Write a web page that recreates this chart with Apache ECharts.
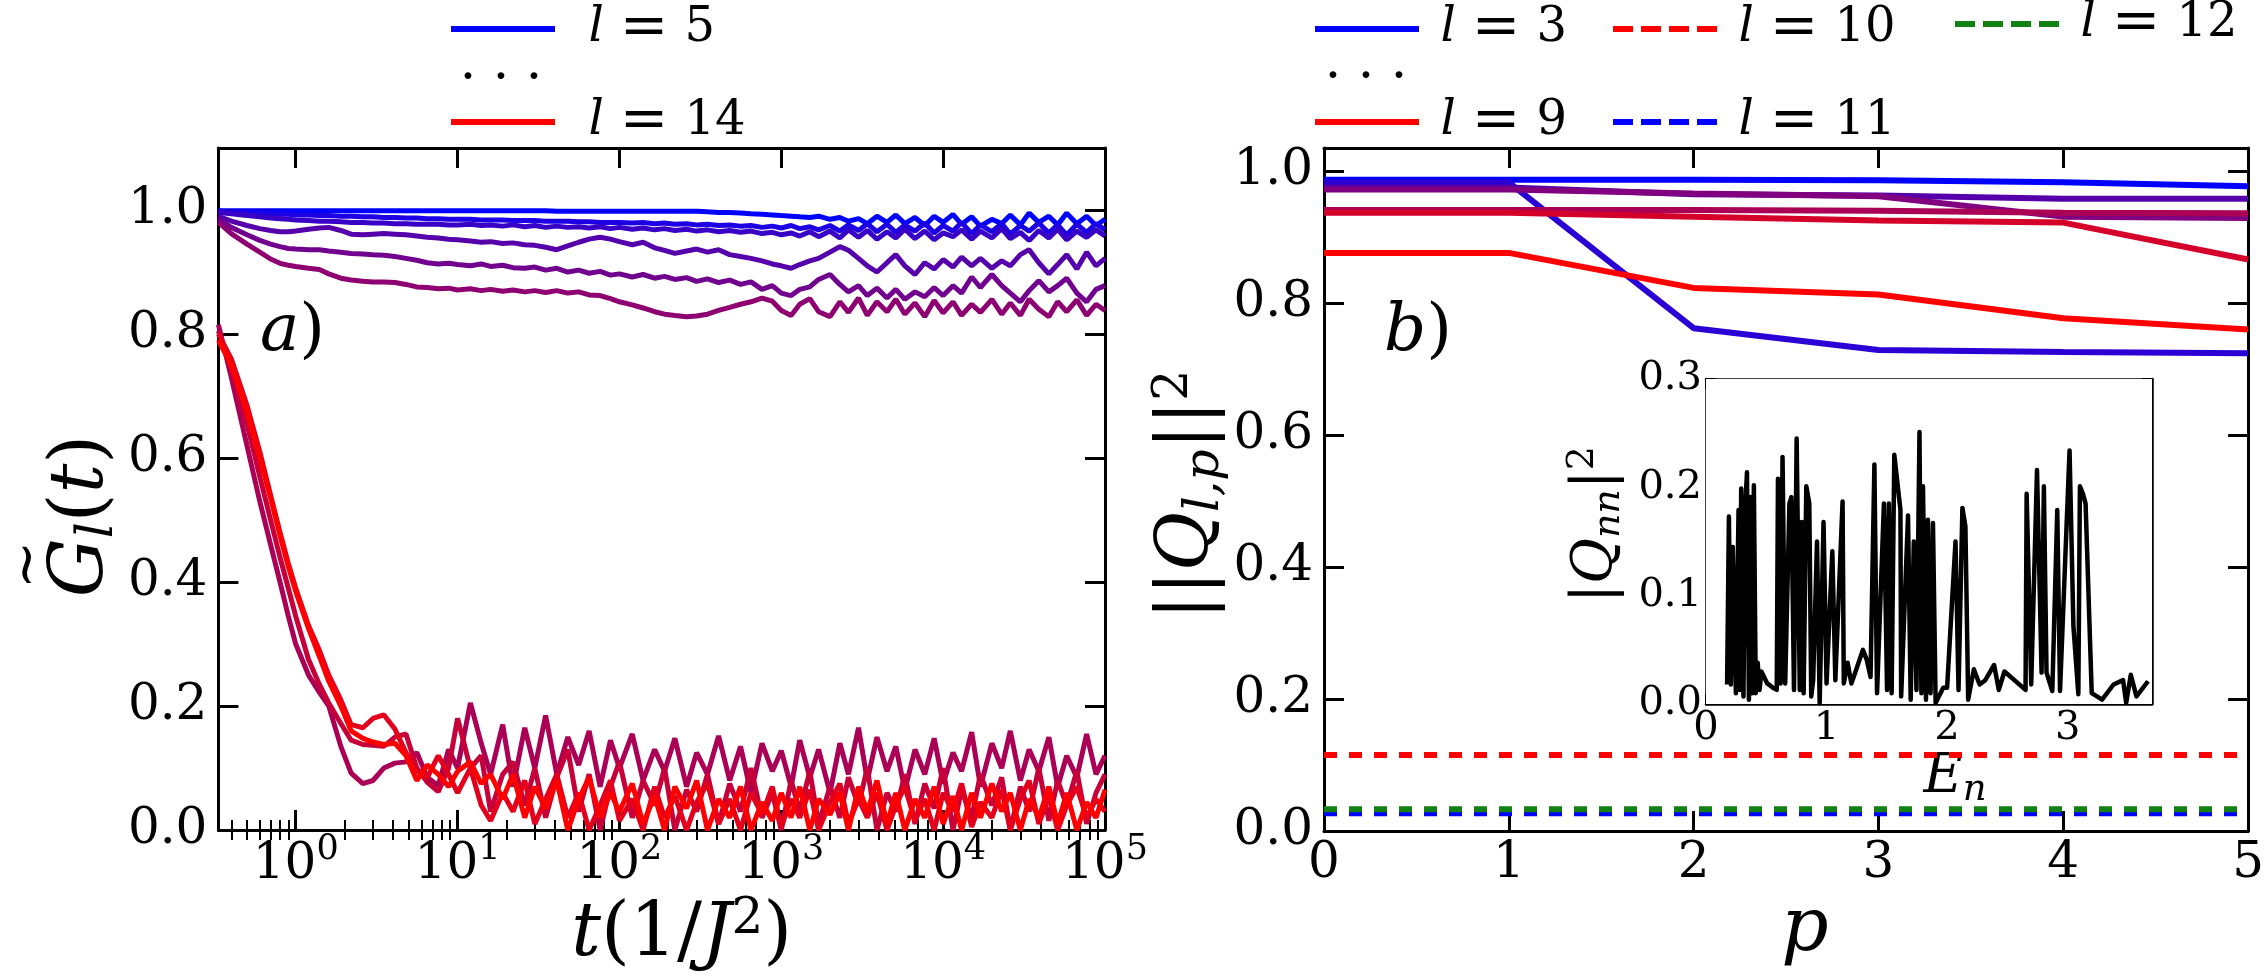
<!DOCTYPE html>
<html><head><meta charset="utf-8">
<script src="https://cdn.jsdelivr.net/npm/echarts@6/dist/echarts.min.js"></script>
<style>html,body{margin:0;padding:0;background:#fff}#c{width:2267px;height:978px}</style>
</head><body><div id="c"></div><script>
// ---------------- data: panel a) ----------------
const T = [0.333,0.4,0.5,0.6,0.7,0.8,0.9,1.0,1.2,1.4,1.6,
 1.9,2.2,2.6,3.0,3.5,4.1,4.8,5.6,6.5,7.6,8.8,
 10,12,14,16,19,22,26,30,35,41,48,
 56,65,76,88,100,120,140,165,190,220,260,
 300,350,410,480,560,650,760,880,1000,1150,1300,
 1500,1700,2000,2300,2600,3000,3400,3900,4500,5100,5800,
 6700,7700,8800,10000,11500,13000,15000,17000,20000,23000,26000,
 30000,34000,39000,45000,51000,58000,67000,77000,88000,100000];
const G5 = [0.999,0.999,0.999,0.999,0.999,0.999,0.999,0.999,0.999,0.999,0.999,
 0.999,0.999,0.999,0.999,0.999,0.999,0.999,0.999,0.999,0.999,0.999,
 0.999,0.999,0.999,0.999,0.999,0.999,0.999,0.999,0.999,0.998,0.998,
 0.998,0.998,0.998,0.998,0.998,0.998,0.998,0.998,0.998,0.998,0.998,
 0.998,0.997,0.996,0.996,0.995,0.994,0.993,0.992,0.991,0.990,0.989,
 0.988,0.990,0.985,0.988,0.982,0.986,0.978,0.990,0.980,0.992,0.978,
 0.988,0.975,0.990,0.980,0.993,0.977,0.989,0.974,0.985,0.978,0.992,
 0.976,0.995,0.980,0.990,0.976,0.995,0.978,0.990,0.975,0.985];
const G6 = [0.998,0.997,0.996,0.995,0.994,0.993,0.993,0.992,0.992,0.991,0.991,
 0.990,0.990,0.989,0.989,0.988,0.988,0.987,0.987,0.986,0.986,0.985,
 0.985,0.985,0.984,0.984,0.984,0.983,0.983,0.983,0.982,0.982,0.982,
 0.981,0.981,0.980,0.980,0.980,0.979,0.980,0.978,0.979,0.977,0.978,
 0.976,0.977,0.975,0.976,0.974,0.975,0.972,0.974,0.971,0.975,0.970,
 0.973,0.968,0.975,0.966,0.976,0.967,0.978,0.965,0.977,0.964,0.976,
 0.966,0.979,0.963,0.975,0.966,0.980,0.962,0.976,0.965,0.978,0.961,
 0.975,0.966,0.979,0.963,0.976,0.960,0.977,0.964,0.978,0.968];
const G7 = [0.996,0.994,0.991,0.989,0.987,0.986,0.985,0.984,0.983,0.982,0.982,
 0.981,0.980,0.980,0.979,0.979,0.978,0.978,0.977,0.977,0.977,0.976,
 0.976,0.977,0.975,0.976,0.974,0.976,0.973,0.975,0.972,0.974,0.972,
 0.973,0.971,0.973,0.970,0.972,0.969,0.971,0.968,0.970,0.967,0.969,
 0.966,0.968,0.965,0.967,0.964,0.966,0.962,0.964,0.960,0.963,0.958,
 0.965,0.957,0.966,0.955,0.968,0.956,0.967,0.953,0.965,0.955,0.969,
 0.954,0.966,0.952,0.963,0.957,0.968,0.953,0.966,0.955,0.970,0.954,
 0.964,0.951,0.967,0.955,0.969,0.952,0.966,0.956,0.968,0.958];
const G8 = [0.990,0.982,0.975,0.970,0.967,0.965,0.965,0.966,0.969,0.971,0.972,
 0.967,0.961,0.960,0.961,0.962,0.961,0.960,0.958,0.956,0.955,0.953,
 0.952,0.950,0.948,0.949,0.946,0.947,0.944,0.943,0.940,0.936,0.942,
 0.948,0.953,0.956,0.953,0.949,0.944,0.948,0.939,0.935,0.930,0.934,
 0.937,0.932,0.936,0.928,0.925,0.922,0.918,0.913,0.910,0.906,0.912,
 0.918,0.922,0.932,0.941,0.935,0.922,0.910,0.900,0.915,0.928,0.910,
 0.896,0.915,0.905,0.920,0.908,0.924,0.910,0.922,0.906,0.918,0.910,
 0.928,0.936,0.915,0.897,0.912,0.928,0.905,0.932,0.910,0.922];
const G9 = [0.985,0.972,0.960,0.951,0.945,0.941,0.938,0.937,0.936,0.936,0.934,
 0.932,0.930,0.929,0.928,0.927,0.925,0.922,0.919,0.915,0.913,0.914,
 0.912,0.910,0.913,0.909,0.911,0.907,0.906,0.908,0.903,0.906,0.900,
 0.903,0.898,0.901,0.895,0.897,0.892,0.896,0.890,0.893,0.888,0.891,
 0.885,0.889,0.883,0.887,0.880,0.884,0.872,0.878,0.866,0.862,0.872,
 0.876,0.888,0.896,0.880,0.868,0.878,0.862,0.874,0.858,0.872,0.856,
 0.868,0.860,0.875,0.862,0.878,0.866,0.892,0.875,0.896,0.878,0.866,
 0.852,0.870,0.886,0.868,0.878,0.890,0.866,0.852,0.872,0.878];
const G10 = [0.980,0.962,0.945,0.932,0.921,0.914,0.911,0.909,0.906,0.904,0.897,
 0.890,0.887,0.885,0.884,0.884,0.883,0.880,0.876,0.875,0.873,0.874,
 0.871,0.873,0.870,0.872,0.869,0.871,0.868,0.870,0.867,0.870,0.866,
 0.868,0.863,0.862,0.857,0.852,0.847,0.842,0.836,0.832,0.830,0.828,
 0.829,0.832,0.838,0.843,0.848,0.852,0.858,0.853,0.838,0.830,0.848,
 0.857,0.836,0.828,0.852,0.835,0.858,0.830,0.852,0.836,0.856,0.832,
 0.850,0.828,0.854,0.834,0.852,0.830,0.848,0.835,0.856,0.832,0.850,
 0.830,0.856,0.840,0.828,0.852,0.836,0.855,0.830,0.848,0.838];
const G11 = [0.815,0.730,0.620,0.530,0.460,0.400,0.345,0.300,0.250,0.222,0.200,
 0.135,0.092,0.075,0.080,0.100,0.108,0.110,0.125,0.085,0.072,0.130,
 0.100,0.205,0.140,0.090,0.170,0.070,0.165,0.100,0.185,0.090,0.150,
 0.105,0.160,0.070,0.145,0.100,0.155,0.080,0.130,0.095,0.148,0.070,
 0.125,0.090,0.152,0.080,0.135,0.060,0.140,0.095,0.128,0.070,0.145,
 0.085,0.130,0.060,0.140,0.090,0.165,0.080,0.150,0.095,0.135,0.065,
 0.130,0.090,0.148,0.075,0.125,0.095,0.158,0.070,0.140,0.100,0.160,
 0.080,0.130,0.095,0.150,0.070,0.120,0.085,0.155,0.090,0.120];
const G12 = [0.805,0.745,0.655,0.570,0.500,0.440,0.390,0.345,0.275,0.235,0.205,
 0.172,0.145,0.138,0.137,0.135,0.150,0.155,0.100,0.077,0.062,0.100,
 0.180,0.100,0.120,0.030,0.090,0.110,0.040,0.100,0.020,0.085,0.130,
 0.030,0.090,0.000,0.070,0.110,0.020,0.080,0.040,0.100,0.000,0.065,
 0.030,0.090,0.010,0.075,0.030,0.100,0.020,0.060,0.000,0.080,0.030,
 0.095,0.010,0.070,0.020,0.085,0.040,0.100,0.000,0.060,0.030,0.090,
 0.010,0.075,0.035,0.100,0.000,0.065,0.020,0.090,0.040,0.085,0.000,
 0.070,0.030,0.100,0.015,0.080,0.040,0.095,0.010,0.060,0.090];
const G13 = [0.800,0.760,0.685,0.610,0.540,0.480,0.430,0.390,0.330,0.290,0.250,
 0.210,0.170,0.165,0.180,0.186,0.163,0.125,0.095,0.085,0.120,0.090,
 0.060,0.100,0.040,0.015,0.060,0.030,0.080,0.010,0.050,0.090,0.020,
 0.060,0.000,0.040,0.080,0.015,0.050,0.000,0.070,0.020,0.055,0.000,
 0.045,0.075,0.010,0.050,0.000,0.060,0.025,0.070,0.005,0.050,0.020,
 0.065,0.000,0.045,0.075,0.010,0.050,0.020,0.060,0.000,0.040,0.070,
 0.015,0.050,0.000,0.060,0.030,0.075,0.005,0.045,0.020,0.065,0.000,
 0.050,0.080,0.010,0.055,0.000,0.040,0.070,0.020,0.050,0.030];
const G14 = [0.790,0.750,0.675,0.600,0.535,0.475,0.425,0.385,0.325,0.280,0.240,
 0.200,0.160,0.148,0.142,0.138,0.140,0.120,0.080,0.105,0.090,0.070,
 0.095,0.110,0.075,0.090,0.050,0.090,0.020,0.070,0.035,0.080,0.000,
 0.050,0.085,0.020,0.060,0.030,0.075,0.010,0.055,0.000,0.070,0.035,
 0.080,0.000,0.050,0.020,0.070,0.000,0.045,0.015,0.060,0.020,0.070,
 0.000,0.050,0.025,0.060,0.000,0.070,0.030,0.080,0.010,0.060,0.000,
 0.050,0.020,0.070,0.010,0.055,0.000,0.060,0.020,0.075,0.030,0.060,
 0.000,0.050,0.020,0.070,0.010,0.060,0.000,0.045,0.020,0.065];
const A_LEVELS = [5,6,7,8,9,10,11,12,13,14];
const A_SERIES = [G5,G6,G7,G8,G9,G10,G11,G12,G13,G14];
const LOG_MAJOR = [1,10,100,1000,10000,100000];
const LOG_MINOR = [0.4,0.5,0.6,0.7,0.8,0.9,2,3,4,5,6,7,8,9,20,30,40,50,60,70,80,90,
 200,300,400,500,600,700,800,900,2000,3000,4000,5000,6000,7000,8000,9000,
 20000,30000,40000,50000,60000,70000,80000,90000];
// ---------------- data: panel b) ----------------
const P = [0,1,2,3,4,5];
const Q3 = [0.987,0.987,0.987,0.986,0.983,0.977];
const Q4 = [0.983,0.983,0.762,0.729,0.726,0.724];
const Q5 = [0.975,0.975,0.965,0.963,0.958,0.958];
const Q6 = [0.972,0.972,0.966,0.962,0.931,0.929];
const Q7 = [0.941,0.941,0.941,0.940,0.937,0.936];
const Q8 = [0.937,0.937,0.931,0.925,0.922,0.866];
const Q9 = [0.876,0.876,0.823,0.813,0.777,0.760];
const Q10 = [0.115,0.115,0.115,0.115,0.115,0.115];
const Q11 = [0.027,0.027,0.027,0.027,0.027,0.027];
const Q12 = [0.033,0.033,0.033,0.033,0.033,0.033];
const B_LEVELS = [3,4,5,6,7,8,9];
const B_SERIES = [Q3,Q4,Q5,Q6,Q7,Q8,Q9];
// ---------------- data: inset ----------------
const EN = [0.175,0.19,0.206,0.222,0.248,0.270,0.279,0.292,0.311,0.324,0.340,0.356,0.371,0.384,0.397,0.413,0.429,0.444,0.460,0.508,
 0.556,0.587,0.597,0.619,0.635,0.657,0.692,0.708,0.730,0.752,0.778,0.794,0.810,0.832,0.857,0.873,0.889,0.921,0.943,0.975,
 1.000,1.048,1.073,1.133,1.143,1.175,1.206,1.238,1.302,1.333,1.365,1.397,1.419,1.476,1.502,1.517,1.540,1.562,1.613,1.619,
 1.676,1.698,1.724,1.746,1.771,1.787,1.800,1.825,1.841,1.863,1.883,1.905,1.968,2.000,2.070,2.095,2.127,2.152,2.175,2.222,
 2.270,2.317,2.390,2.429,2.476,2.651,2.660,2.698,2.746,2.784,2.803,2.825,2.873,2.914,2.937,3.016,3.048,3.089,3.102,3.127,
 3.149,3.200,3.286,3.381,3.460,3.486,3.524,3.571,3.667];
const QNN = [0.018,0.173,0.018,0.145,0.010,0.179,0.013,0.199,0.007,0.179,0.214,0.004,0.191,0.010,0.202,0.010,0.038,0.013,0.030,0.019,
 0.015,0.013,0.208,0.019,0.228,0.019,0.185,0.191,0.013,0.245,0.013,0.168,0.010,0.201,0.185,0.007,0.022,0.150,0.001,0.168,
 0.019,0.141,0.022,0.187,0.019,0.038,0.019,0.029,0.050,0.041,0.025,0.221,0.010,0.185,0.013,0.185,0.010,0.230,0.179,0.007,
 0.174,0.004,0.150,0.013,0.251,0.010,0.201,0.004,0.170,0.010,0.167,0.001,0.015,0.015,0.150,0.013,0.181,0.164,0.004,0.032,
 0.018,0.022,0.036,0.013,0.030,0.013,0.194,0.018,0.216,0.029,0.201,0.029,0.012,0.179,0.012,0.234,0.072,0.009,0.201,0.194,
 0.185,0.010,0.004,0.018,0.022,0.001,0.027,0.007,0.021];

// ---------------- styling ----------------
const FONT = 'DejaVu Serif';
const A_COLORS = ['#0000ff','#1c00e3','#3900c6','#5500aa','#71008e','#8e0071','#aa0055','#c60039','#e3001c','#ff0000'];
const B_COLORS = ['#0000ff','#2a00d5','#5500aa','#800080','#aa0055','#d5002a','#ff0000'];
const BLACK = '#000';
const ICON_SOLID = 'path://M0,0H104V6H0Z';
const ICON_DASH = 'path://M0,0H20V6H0Z M28,0H48V6H28Z M56,0H76V6H56Z M84,0H104V6H84Z';

function fmtStep(step, dec) {
  return v => (Math.abs(v / step - Math.round(v / step)) < 1e-6) ? v.toFixed(dec) : '';
}
function fmtLog(v) {
  const e = Math.log10(v), r = Math.round(e);
  return Math.abs(e - r) < 1e-6 ? '{b|10}{s|' + r + '}' : '';
}
function nameRich(size) {
  return {
    i: {fontFamily: FONT, fontStyle: 'italic', fontSize: size, lineHeight: size + 8, color: BLACK},
    n: {fontFamily: FONT, fontSize: size, lineHeight: size + 8, color: BLACK},
    s: {fontFamily: FONT, fontStyle: 'italic', fontSize: Math.round(size * 0.68), lineHeight: Math.round(size * 0.7), verticalAlign: 'bottom', color: BLACK},
    p: {fontFamily: FONT, fontSize: Math.round(size * 0.68), lineHeight: Math.round(size * 0.5), verticalAlign: 'top', color: BLACK}
  };
}
// rich styles for the tilde-G axis title: tilde on its own short line, left aligned over the G
const gRich = {
  t: {fontFamily: FONT, fontSize: 58, lineHeight: 24, align: 'left', padding: [0, 0, 0, 8], color: BLACK},
  i: {fontFamily: FONT, fontStyle: 'italic', fontSize: 74, lineHeight: 82, align: 'left', color: BLACK},
  n: {fontFamily: FONT, fontSize: 74, lineHeight: 82, align: 'left', color: BLACK},
  s: {fontFamily: FONT, fontStyle: 'italic', fontSize: 50, lineHeight: 56, verticalAlign: 'bottom', align: 'left', color: BLACK}
};
function frameAxis(extra) {
  return Object.assign({
    axisLine: {show: true, onZero: false, lineStyle: {color: BLACK, width: 3}},
    axisTick: {show: true, inside: true, length: 20, lineStyle: {color: BLACK, width: 3}},
    axisLabel: {show: false},
    splitLine: {show: false}
  }, extra);
}
function minorAxis(extra) {
  return Object.assign({
    axisLine: {show: false},
    axisTick: {show: true, inside: true, length: 10, lineStyle: {color: BLACK, width: 2}, customValues: LOG_MINOR},
    axisLabel: {show: false},
    splitLine: {show: false}
  }, extra);
}
const tickLabel = (size, margin, fmt) => ({show: true, margin: margin, color: BLACK, fontFamily: FONT, fontSize: size, formatter: fmt});

const X_MIN = 0.333, X_MAX = 100000;

const xAxis = [
  frameAxis({type: 'log', gridIndex: 0, position: 'bottom', min: X_MIN, max: X_MAX,
    axisTick: {show: true, inside: true, length: 20, lineStyle: {color: BLACK, width: 3}, customValues: LOG_MAJOR},
    axisLabel: {show: true, margin: 2, formatter: fmtLog, customValues: LOG_MAJOR, fontFamily: FONT,
      rich: {b: {fontFamily: FONT, fontSize: 50, lineHeight: 58, verticalAlign: 'bottom', padding: [4, 0, 0, 0], color: BLACK},
             s: {fontFamily: FONT, fontSize: 35, lineHeight: 38, verticalAlign: 'top', color: BLACK}}},
    name: '{i|t}{n|(1/}{i|J}{p|2}{n|)}', nameLocation: 'middle', nameGap: 55,
    nameTextStyle: {fontFamily: FONT, rich: nameRich(74), padding: [0, 0, 0, 40]}}),
  minorAxis({type: 'log', gridIndex: 0, position: 'bottom', min: X_MIN, max: X_MAX}),
  frameAxis({type: 'log', gridIndex: 0, position: 'top', min: X_MIN, max: X_MAX,
    axisTick: {show: true, inside: true, length: 20, lineStyle: {color: BLACK, width: 3}, customValues: LOG_MAJOR}}),
  minorAxis({type: 'log', gridIndex: 0, position: 'top', min: X_MIN, max: X_MAX}),
  frameAxis({type: 'value', gridIndex: 1, position: 'bottom', min: 0, max: 5, interval: 1,
    axisLabel: tickLabel(50, 8, v => String(v)),
    name: '{i|p}', nameLocation: 'middle', nameGap: 26,
    nameTextStyle: {fontFamily: FONT, rich: nameRich(74), padding: [0, 0, 0, 38]}}),
  frameAxis({type: 'value', gridIndex: 1, position: 'top', min: 0, max: 5, interval: 1}),
  frameAxis({type: 'value', gridIndex: 2, position: 'bottom', min: 0, max: 3.7, interval: 1,
    axisLine: {show: true, onZero: false, lineStyle: {color: BLACK, width: 2.5}},
    axisTick: {show: true, inside: true, length: 10, lineStyle: {color: BLACK, width: 2}},
    axisLabel: tickLabel(40, 5, v => Number.isInteger(v) ? String(v) : ''),
    name: '{i|E}{s|n}', nameLocation: 'middle', nameGap: 43,
    nameTextStyle: {fontFamily: FONT, rich: nameRich(54), padding: [0, 0, 0, 52]}}),
  frameAxis({type: 'value', gridIndex: 2, position: 'top', min: 0, max: 3.7, interval: 1,
    axisLine: {show: true, onZero: false, lineStyle: {color: BLACK, width: 2.5}},
    axisTick: {show: true, inside: true, length: 10, lineStyle: {color: BLACK, width: 2}}})
];

const yAxis = [
  frameAxis({type: 'value', gridIndex: 0, position: 'left', min: 0, max: 1.1, interval: 0.2,
    axisLabel: tickLabel(50, 11, fmtStep(0.2, 1)),
    name: '{t|~}\n{i|G}{s|l}{n|(}{i|t}{n|)}', nameLocation: 'middle', nameRotate: 90, nameGap: 76,
    nameTextStyle: {fontFamily: FONT, rich: gRich, padding: [0, 54, 0, 0]}}),
  frameAxis({type: 'value', gridIndex: 0, position: 'right', min: 0, max: 1.1, interval: 0.2}),
  frameAxis({type: 'value', gridIndex: 1, position: 'left', min: 0, max: 1.035, interval: 0.2,
    axisLabel: tickLabel(50, 11, fmtStep(0.2, 1)),
    name: '{n|||}{i|Q}{s|l,p}{n|||}{p|2}', nameLocation: 'middle', nameRotate: 90, nameGap: 90,
    nameTextStyle: {fontFamily: FONT, rich: nameRich(72), padding: [0, 10, 0, 0]}}),
  frameAxis({type: 'value', gridIndex: 1, position: 'right', min: 0, max: 1.035, interval: 0.2}),
  frameAxis({type: 'value', gridIndex: 2, position: 'left', min: 0, max: 0.3, interval: 0.1,
    axisLine: {show: true, onZero: false, lineStyle: {color: BLACK, width: 2.5}},
    axisTick: {show: true, inside: true, length: 10, lineStyle: {color: BLACK, width: 2}},
    axisLabel: tickLabel(40, 4, fmtStep(0.1, 1)),
    name: '{n||}{i|Q}{s|nn}{n||}{p|2}', nameLocation: 'middle', nameRotate: 90, nameGap: 78,
    nameTextStyle: {fontFamily: FONT, rich: nameRich(56), padding: [0, 0, 0, 34]}}),
  frameAxis({type: 'value', gridIndex: 2, position: 'right', min: 0, max: 0.3, interval: 0.1,
    axisLine: {show: true, onZero: false, lineStyle: {color: BLACK, width: 2.5}},
    axisTick: {show: true, inside: true, length: 10, lineStyle: {color: BLACK, width: 2}}})
];

const series = [];
A_SERIES.forEach((vals, k) => {
  series.push({type: 'line', name: 'A' + A_LEVELS[k], xAxisIndex: 0, yAxisIndex: 0,
    data: T.map((t, i) => [t, vals[i]]), symbol: 'none', clip: true, z: 2,
    lineStyle: {width: 5, color: A_COLORS[k]}, itemStyle: {color: A_COLORS[k]}});
});
B_SERIES.forEach((vals, k) => {
  series.push({type: 'line', name: 'B' + B_LEVELS[k], xAxisIndex: 4, yAxisIndex: 2,
    data: P.map((p, i) => [p, vals[i]]), symbol: 'none', clip: true, z: 2,
    lineStyle: {width: 6, color: B_COLORS[k]}, itemStyle: {color: B_COLORS[k]}});
});
[[Q10, 'B10', '#ff0000'], [Q11, 'B11', '#0000ff'], [Q12, 'B12', '#138013']].forEach(([vals, nm, col]) => {
  series.push({type: 'line', name: nm, xAxisIndex: 4, yAxisIndex: 2,
    data: P.map((p, i) => [p, vals[i]]), symbol: 'none', clip: true, z: 2,
    lineStyle: {width: 6, color: col, type: [13, 12]}, itemStyle: {color: col}});
});
series.push({type: 'line', name: 'inset', xAxisIndex: 6, yAxisIndex: 4,
  data: EN.map((e, i) => [e, QNN[i]]), symbol: 'none', clip: true, z: 6,
  lineStyle: {width: 4.5, color: BLACK, join: 'round'}, itemStyle: {color: BLACK}});

function legendCfg(items, left, top, gap, spacer) {
  return {
    data: items.map(([name, dashed]) => ({name: name, icon: dashed ? ICON_DASH : ICON_SOLID})),
    left: left, top: top, orient: 'vertical', itemWidth: 105, itemHeight: 6, itemGap: gap,
    selectedMode: false, padding: 0,
    formatter: name => '{sp| }{i|l}{e|=}{n|' + name.slice(1) + '}',
    textStyle: {fontFamily: FONT, fontSize: 46, lineHeight: 56, color: BLACK,
      rich: {sp: {width: spacer, fontSize: 10, fontFamily: FONT},
             i: {fontFamily: FONT, fontStyle: 'italic', fontSize: 48, lineHeight: 56, color: BLACK},
             e: {fontFamily: FONT, fontSize: 58, lineHeight: 56, color: BLACK, padding: [0, 16, 0, 16]},
             n: {fontFamily: FONT, fontSize: 48, lineHeight: 56, color: BLACK}}}
  };
}

const labelRich = {i: {fontFamily: FONT, fontStyle: 'italic', fontSize: 66, lineHeight: 80, color: BLACK},
                   n: {fontFamily: FONT, fontSize: 66, lineHeight: 80, color: BLACK}};
const option = {
  animation: false,
  backgroundColor: '#fff',
  textStyle: {fontFamily: FONT},
  grid: [
    {left: 176, top: 148, width: 929, height: 685},
    {left: 1324, top: 148, width: 930, height: 683},
    {left: 1706, top: 379, width: 446, height: 325, show: true, backgroundColor: '#fff', borderWidth: 0, z: 4}
  ],
  xAxis: xAxis,
  yAxis: yAxis,
  legend: [
    legendCfg([['A5', false], ['A14', false]], 451, 0, 35, 28),
    legendCfg([['B3', false], ['B9', false]], 1315, 0, 35, 16),
    legendCfg([['B10', true], ['B11', true]], 1613, 0, 35, 16),
    legendCfg([['B12', true]], 1955, -5, 35, 16)
  ],
  graphic: [
    {type: 'text', left: 260, top: 300, style: {text: '{i|a}{n|)}', rich: labelRich}},
    {type: 'text', left: 1384, top: 300, style: {text: '{i|b}{n|)}', rich: labelRich}},
    {type: 'text', x: 501, y: 80, style: {text: '\u00b7 \u00b7 \u00b7', font: '52px ' + FONT, fill: BLACK, align: 'center', verticalAlign: 'middle'}},
    {type: 'text', x: 1366, y: 79, style: {text: '\u00b7 \u00b7 \u00b7', font: '52px ' + FONT, fill: BLACK, align: 'center', verticalAlign: 'middle'}}
  ],
  series: series
};
const chart = echarts.init(document.getElementById('c'), null, {renderer: 'canvas'});
chart.setOption(option);
</script></body></html>
